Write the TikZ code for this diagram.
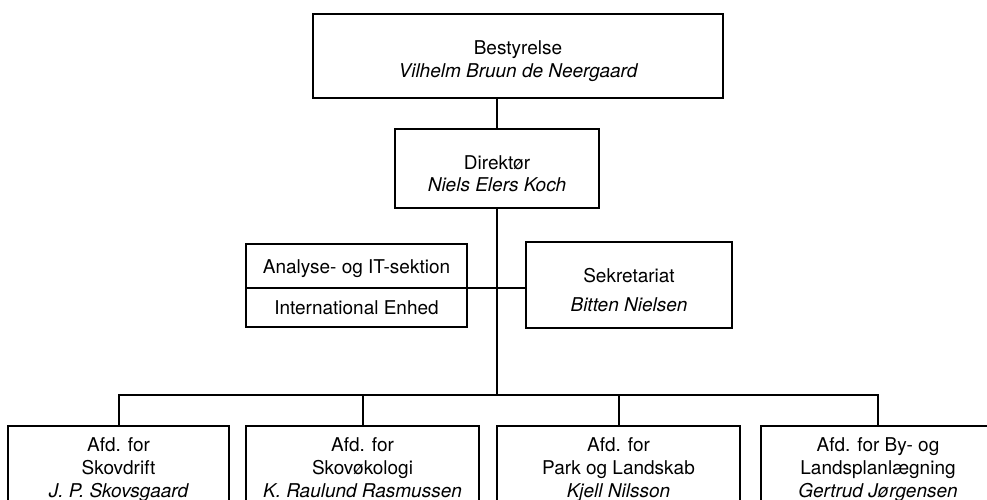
\documentclass[tikz,border=0pt]{standalone}
\usepackage{fontspec}
\setmainfont{TeX Gyre Heros}
\usetikzlibrary{shapes,positioning,calc}
\newcommand{\orgstrut}{\rule{0pt}{24pt}}

\begin{document}
\begin{tikzpicture}[x=1pt, y=1pt, level distance=72pt, line width=2pt,
    every node/.append style={font=\fontsize{19}{22.6}\selectfont, draw, align=center, anchor=north},
    level 1/.style={edge from parent path={(\tikzchildnode.north) -- (\tikzchildnode.north |- \tikzparentnode.south)}},
    level 2/.style={level distance=256.5pt, sibling distance=253pt, minimum height=90pt,
      edge from parent path={(\tikzparentnode.south) |- ([yshift=30pt]\tikzchildnode.north) -- (\tikzchildnode.north)}}]
    \useasboundingbox (0,0) rectangle (987,-499);
    \clip (0,0) rectangle (987,-499);
    \node (Bestyrelse) [minimum width=410pt, minimum height=84pt] at (518,-13) {\orgstrut Bestyrelse\\{\itshape Vilhelm Bruun de Neergaard}}
      child [xshift=-21pt] {node (Direktor) [minimum width=204pt, minimum height=79pt] {\orgstrut Direktør\\{\itshape Niels Elers Koch}}
      {
        child [xshift=1pt] {node (Skovdrift) [minimum width=221pt] {Afd. for\\Skovdrift\\{\itshape J. P. Skovsgaard}\strut}}
        child [xshift=-8pt] {node (Skovokologi) [minimum width=233pt] {Afd. for\\Skovøkologi\\{\itshape K. Raulund Rasmussen}\strut}}
        child [xshift=-5pt] {node (Park) [minimum width=243pt] {Afd. for\\Park og Landskab\\{\itshape Kjell Nilsson}\strut}}
        child [xshift=1.5pt] {node (Landsplan) [minimum width=234pt] {Afd. for By- og\\Landsplanlægning\\{\itshape Gertrud Jørgensen}\strut}}
      }};
    % stabsfunktioner ved direktoeren
    \node (Analyse) [rectangle split, rectangle split parts=2, minimum width=221pt, inner ysep=11.5pt,
      text height=17pt, text depth=2pt] at (356.5,-243) {Analyse- og IT-sektion\nodepart{two}International Enhed};
    \node (Sekretariat) [minimum width=206pt, minimum height=86pt] at (629,-241) {\orgstrut Sekretariat\\[6.4pt]{\itshape Bitten Nielsen}};
    \draw (Analyse.text split east) -- (Analyse.text split east -| Sekretariat.west);
\end{tikzpicture}
\end{document}
